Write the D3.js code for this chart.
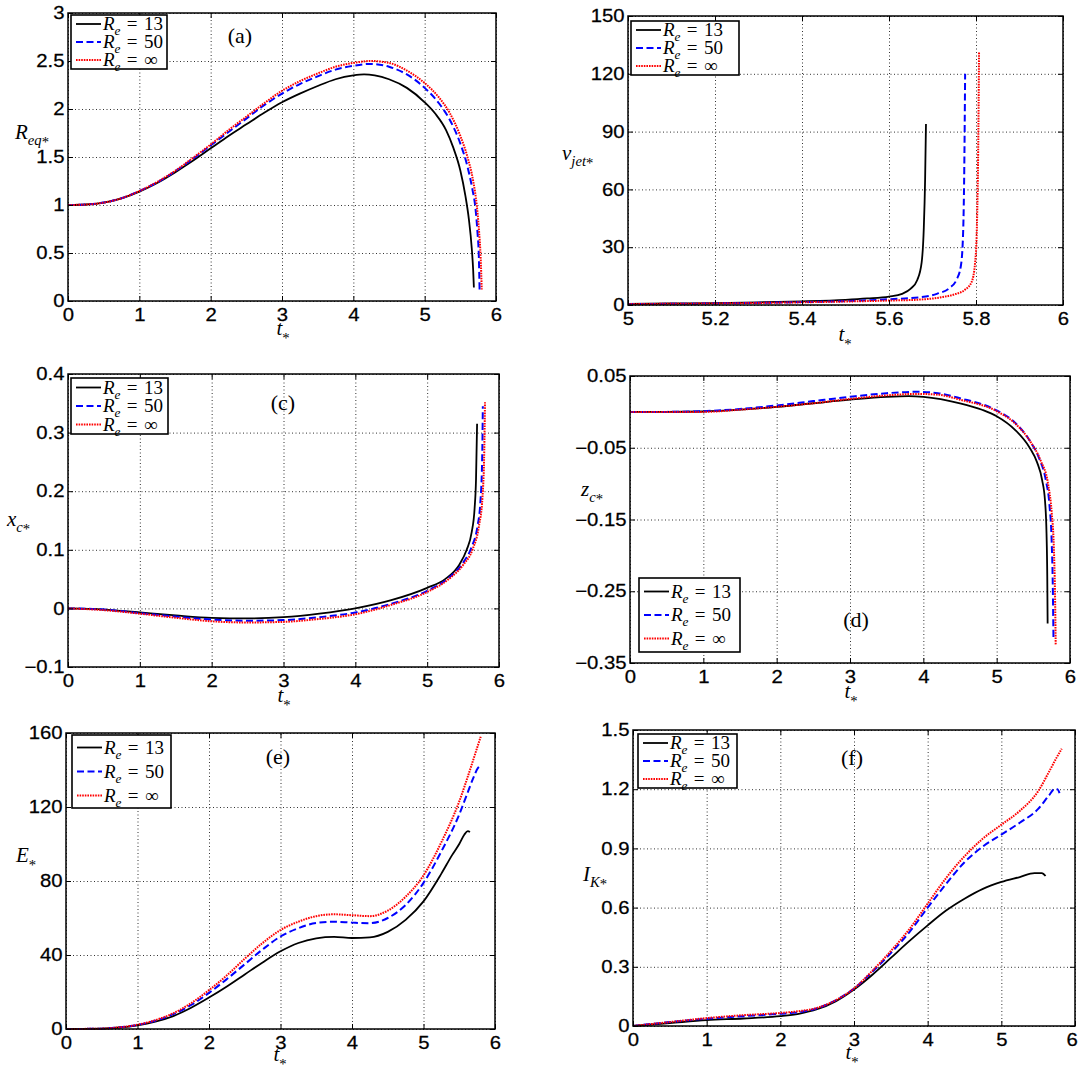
<!DOCTYPE html>
<html>
<head>
<meta charset="utf-8">
<script src="https://cdn.jsdelivr.net/npm/d3@7/dist/d3.min.js"></script>
<style>
  body { margin: 0; background: #fff; }
  svg { display: block; }
  .tick text { font-family: "Liberation Sans", Arial, sans-serif; font-size: 17.5px; fill: #000; stroke: #000; stroke-width: 0.25px; }
  .serif { font-family: "Liberation Serif", "Times New Roman", serif; fill: #000; }
</style>
</head>
<body>
<svg id="fig" width="1079" height="1072"></svg>
<script>
// ---- data: [t*, value] pairs per Re ----
const reLabels = ["13", "50", "\u221E"];

// (a) R_eq*
const reqRe13 = [[0,1],[0.25,1.005],[0.5,1.025],[0.75,1.07],[1,1.14],[1.25,1.23],[1.5,1.34],[1.75,1.46],[2,1.59],[2.25,1.72],[2.5,1.84],[2.75,1.96],[3,2.07],[3.25,2.16],[3.5,2.24],[3.75,2.31],[4,2.35],[4.15,2.36],[4.3,2.35],[4.5,2.31],[4.75,2.22],[5,2.07],[5.15,1.95],[5.3,1.78],[5.4,1.6],[5.5,1.36],[5.57,1.1],[5.62,0.85],[5.66,0.55],[5.68,0.32],[5.69,0.14]];
const reqRe50 = [[0,1],[0.25,1.005],[0.5,1.025],[0.75,1.07],[1,1.145],[1.25,1.235],[1.5,1.35],[1.75,1.48],[2,1.62],[2.25,1.76],[2.5,1.9],[2.75,2.04],[3,2.16],[3.25,2.26],[3.5,2.34],[3.75,2.41],[4,2.45],[4.25,2.47],[4.5,2.44],[4.75,2.36],[5,2.22],[5.2,2.06],[5.35,1.89],[5.5,1.64],[5.6,1.4],[5.67,1.16],[5.71,0.98],[5.74,0.72],[5.76,0.45],[5.77,0.12]];
const reqReInf = [[0,1],[0.25,1.005],[0.5,1.025],[0.75,1.07],[1,1.145],[1.25,1.24],[1.5,1.355],[1.75,1.49],[2,1.63],[2.25,1.78],[2.5,1.92],[2.75,2.06],[3,2.19],[3.25,2.29],[3.5,2.37],[3.75,2.44],[4,2.48],[4.25,2.5],[4.5,2.48],[4.75,2.4],[5,2.27],[5.2,2.12],[5.35,1.96],[5.5,1.72],[5.6,1.5],[5.68,1.25],[5.73,1.0],[5.76,0.75],[5.785,0.45],[5.8,0.12]];

// (b) v_jet*
const vjetRe13 = [[5,0.6],[5.1,0.8],[5.2,1.0],[5.3,1.4],[5.4,1.9],[5.5,2.7],[5.55,3.4],[5.6,4.4],[5.63,5.8],[5.65,8.5],[5.665,13],[5.675,22],[5.68,40],[5.683,65],[5.685,94]];
const vjetRe50 = [[5,0.5],[5.2,0.8],[5.4,1.5],[5.5,2],[5.6,3],[5.67,4],[5.71,5.8],[5.74,9],[5.755,13],[5.765,20],[5.77,35],[5.773,70],[5.775,120]];
const vjetReInf = [[5,0.5],[5.2,0.8],[5.4,1.4],[5.5,1.8],[5.6,2.3],[5.67,2.8],[5.72,4],[5.75,5.5],[5.775,8],[5.79,12],[5.798,22],[5.802,40],[5.805,80],[5.807,131]];

// (c) x_c*
const xcRe13 = [[0,0],[0.5,-0.002],[1,-0.007],[1.5,-0.012],[2,-0.016],[2.5,-0.017],[3,-0.015],[3.5,-0.009],[4,0.0],[4.5,0.014],[5,0.035],[5.25,0.05],[5.45,0.075],[5.55,0.1],[5.62,0.13],[5.66,0.17],[5.68,0.22],[5.695,0.315]];
const xcRe50 = [[0,0],[0.5,-0.002],[1,-0.008],[1.5,-0.014],[2,-0.019],[2.5,-0.021],[3,-0.02],[3.5,-0.015],[4,-0.007],[4.5,0.008],[5,0.03],[5.3,0.052],[5.5,0.078],[5.62,0.105],[5.7,0.14],[5.74,0.18],[5.765,0.25],[5.775,0.345]];
const xcReInf = [[0,0],[0.5,-0.003],[1,-0.009],[1.5,-0.016],[2,-0.022],[2.5,-0.024],[3,-0.023],[3.5,-0.018],[4,-0.01],[4.5,0.006],[5,0.028],[5.3,0.05],[5.5,0.074],[5.63,0.1],[5.72,0.14],[5.77,0.19],[5.795,0.27],[5.805,0.352]];

// (d) z_c*
const zcRe13 = [[0,0],[0.5,0],[1,0.0005],[1.5,0.003],[2,0.007],[2.5,0.012],[3,0.017],[3.5,0.021],[3.8,0.022],[4,0.021],[4.5,0.012],[4.8,0.003],[5,-0.006],[5.25,-0.025],[5.45,-0.05],[5.55,-0.07],[5.62,-0.095],[5.66,-0.125],[5.68,-0.17],[5.69,-0.23],[5.695,-0.295]];
const zcRe50 = [[0,0],[0.5,0],[1,0.001],[1.5,0.004],[2,0.009],[2.5,0.015],[3,0.021],[3.5,0.026],[3.9,0.028],[4.2,0.026],[4.5,0.019],[5,0.002],[5.25,-0.015],[5.45,-0.04],[5.58,-0.065],[5.67,-0.095],[5.72,-0.13],[5.75,-0.18],[5.765,-0.24],[5.775,-0.318]];
const zcReInf = [[0,0],[0.5,0],[1,0],[1.5,0.003],[2,0.007],[2.5,0.012],[3,0.018],[3.5,0.023],[3.9,0.025],[4.2,0.024],[4.5,0.017],[5,0.001],[5.25,-0.016],[5.45,-0.04],[5.6,-0.068],[5.7,-0.1],[5.75,-0.14],[5.78,-0.19],[5.795,-0.25],[5.805,-0.325]];

// (e) E*
const eRe13 = [[0,0],[0.5,0.2],[0.75,0.8],[1,2],[1.25,4],[1.5,7],[1.75,11.5],[2,17],[2.25,23],[2.5,29.5],[2.75,36],[3,42],[3.25,46.5],[3.5,49],[3.75,49.8],[4,49.2],[4.25,49.5],[4.5,52.5],[4.75,59],[5,69],[5.25,84],[5.4,94],[5.5,100],[5.57,105],[5.62,107],[5.65,106.5]];
const eRe50 = [[0,0],[0.5,0.2],[0.75,0.9],[1,2.2],[1.25,4.5],[1.5,8],[1.75,13],[2,19.5],[2.25,27],[2.5,35],[2.75,43],[3,50],[3.25,54.5],[3.5,57.3],[3.75,58],[4,57.5],[4.25,57.2],[4.5,60],[4.75,67],[5,79],[5.25,96],[5.5,116],[5.6,126],[5.7,136],[5.76,141],[5.79,142]];
const eReInf = [[0,0],[0.5,0.2],[0.75,0.9],[1,2.3],[1.25,4.8],[1.5,8.5],[1.75,14],[2,21],[2.25,29],[2.5,38],[2.75,46.5],[3,53.5],[3.25,58],[3.5,61],[3.75,62],[4,61.5],[4.25,61],[4.5,64],[4.75,71.5],[5,83],[5.25,101],[5.5,123],[5.65,140],[5.75,152],[5.8,158]];

// (f) I_K*
const ikRe13 = [[0,0],[0.5,0.015],[1,0.03],[1.5,0.038],[2,0.05],[2.25,0.062],[2.5,0.085],[2.75,0.125],[3,0.185],[3.25,0.26],[3.5,0.345],[3.75,0.43],[4,0.51],[4.25,0.585],[4.5,0.645],[4.75,0.695],[5,0.73],[5.25,0.755],[5.45,0.775],[5.55,0.775],[5.6,0.76]];
const ikRe50 = [[0,0],[0.5,0.02],[1,0.037],[1.5,0.05],[2,0.062],[2.25,0.07],[2.5,0.09],[2.75,0.13],[3,0.19],[3.25,0.275],[3.5,0.37],[3.75,0.475],[4,0.6],[4.25,0.72],[4.5,0.83],[4.75,0.91],[5,0.97],[5.25,1.03],[5.5,1.1],[5.65,1.17],[5.72,1.2],[5.76,1.2],[5.79,1.18]];
const ikReInf = [[0,0],[0.5,0.02],[1,0.04],[1.5,0.055],[2,0.066],[2.25,0.075],[2.5,0.092],[2.75,0.13],[3,0.19],[3.25,0.28],[3.5,0.38],[3.75,0.49],[4,0.62],[4.25,0.75],[4.5,0.86],[4.75,0.95],[5,1.02],[5.25,1.09],[5.5,1.19],[5.65,1.29],[5.75,1.36],[5.82,1.405]];

// ---- ticks ----
const tTicks = [0,1,2,3,4,5,6];
const tTickLabels = ["0","1","2","3","4","5","6"];
const tZoomTicks = [5,5.2,5.4,5.6,5.8,6];
const tZoomTickLabels = ["5","5.2","5.4","5.6","5.8","6"];
const reqTicks = [0,0.5,1,1.5,2,2.5,3];
const reqTickLabels = ["0","0.5","1","1.5","2","2.5","3"];
const vjetTicks = [0,30,60,90,120,150];
const vjetTickLabels = ["0","30","60","90","120","150"];
const xcTicks = [-0.1,0,0.1,0.2,0.3,0.4];
const xcTickLabels = ["\u22120.1","0","0.1","0.2","0.3","0.4"];
const zcTicks = [-0.35,-0.25,-0.15,-0.05,0.05];
const zcTickLabels = ["\u22120.35","\u22120.25","\u22120.15","\u22120.05","0.05"];
const eTicks = [0,40,80,120,160];
const eTickLabels = ["0","40","80","120","160"];
const ikTicks = [0,0.3,0.6,0.9,1.2,1.5];
const ikTickLabels = ["0","0.3","0.6","0.9","1.2","1.5"];

// ---- styles ----
const lineStyles = [
  { color: "#000000", dash: null, width: 1.8 },
  { color: "#0000ff", dash: "7,3.5", width: 2 },
  { color: "#ff0000", dash: "1.6,1", width: 2 }
];

const svg = d3.select("#fig");
const pageW = 1079;

// serif math-ish text: parts = [{t, it, sub, star}]
function richText(parent, x, y, parts, size, anchor) {
  const t = parent.append("text")
    .attr("class", "serif")
    .attr("x", x).attr("y", y)
    .attr("font-size", size)
    .attr("text-anchor", anchor || "start");
  let shift = 0;
  parts.forEach(pt => {
    let target = pt.sub ? size * 0.28 : 0;
    if (pt.star) target += size * 0.1;
    const s = t.append("tspan").text(pt.t).attr("dy", target - shift);
    shift = target;
    if (pt.sub) s.attr("font-size", size * 0.7);
    if (pt.it) s.attr("font-style", "italic");
  });
  return t;
}

function drawPanel(p) {
  const g = svg.append("g");
  const x = d3.scaleLinear().domain(p.xDomain).range([p.left, p.right]);
  const y = d3.scaleLinear().domain(p.yDomain).range([p.bottom, p.top]);
  const w = p.right - p.left, h = p.bottom - p.top;

  // dotted grid
  const gx = g.append("g").attr("transform", `translate(0,${p.bottom})`)
    .call(d3.axisBottom(x).tickValues(p.xTicks).tickSize(-h).tickFormat(""));
  const gy = g.append("g").attr("transform", `translate(${p.left},0)`)
    .call(d3.axisLeft(y).tickValues(p.yTicks).tickSize(-w).tickFormat(""));
  [gx, gy].forEach(a => {
    a.select(".domain").remove();
    a.selectAll("line").attr("stroke", "#333").attr("stroke-width", 1).attr("stroke-dasharray", "1,2.5");
  });

  // curves
  const line = d3.line().x(d => x(d[0])).y(d => y(d[1])).curve(d3.curveMonotoneX);
  p.series.forEach((s, i) => {
    const st = lineStyles[i];
    g.append("path").datum(s)
      .attr("fill", "none")
      .attr("stroke", st.color)
      .attr("stroke-width", st.width)
      .attr("stroke-dasharray", st.dash)
      .attr("d", line);
  });

  // axes with inward ticks on all four sides
  const xi = d3.scaleOrdinal().domain(p.xTicks).range(p.xLabels);
  const yi = d3.scaleOrdinal().domain(p.yTicks).range(p.yLabels);
  const ab = g.append("g").attr("transform", `translate(0,${p.bottom})`)
    .call(d3.axisBottom(x).tickValues(p.xTicks).tickSize(-5).tickPadding(7.5).tickFormat(d => xi(d)));
  const al = g.append("g").attr("transform", `translate(${p.left},0)`)
    .call(d3.axisLeft(y).tickValues(p.yTicks).tickSize(-5).tickPadding(3).tickFormat(d => yi(d)));
  const at = g.append("g").attr("transform", `translate(0,${p.top})`)
    .call(d3.axisTop(x).tickValues(p.xTicks).tickSize(-5).tickFormat(""));
  const ar = g.append("g").attr("transform", `translate(${p.right},0)`)
    .call(d3.axisRight(y).tickValues(p.yTicks).tickSize(-5).tickFormat(""));
  [ab, al, at, ar].forEach(a => {
    a.select(".domain").remove();
    a.selectAll("line").attr("stroke", "#000").attr("stroke-width", 1);
    a.selectAll("text").attr("transform", "scale(1.16,1)");
  });
  // keep the last x label inside the page
  if (p.right > pageW - 8) {
    ab.selectAll(".tick text").filter(d => d === p.xTicks[p.xTicks.length - 1]).attr("dx", -3);
  }

  // frame
  g.append("rect").attr("x", p.left).attr("y", p.top).attr("width", w).attr("height", h)
    .attr("fill", "none").attr("stroke", "#000").attr("stroke-width", 1.5);

  // legend
  const L = p.legend;
  const lg = g.append("g");
  lg.append("rect").attr("x", L.x).attr("y", L.y).attr("width", L.w).attr("height", L.h)
    .attr("fill", "#fff").attr("stroke", "#000").attr("stroke-width", 1.6);
  reLabels.forEach((lab, i) => {
    const cy = L.y + L.h / 2 + (i - 1) * L.row;
    const st = lineStyles[i];
    lg.append("line").attr("x1", L.x + 5).attr("x2", L.x + 30).attr("y1", cy).attr("y2", cy)
      .attr("stroke", st.color).attr("stroke-width", st.width).attr("stroke-dasharray", st.dash);
    richText(lg, L.x + 32, cy + 6,
      [{ t: "R", it: true }, { t: "e", it: true, sub: true }, { t: "\u2004=\u2004" + lab }], 19);
  });

  // labels
  richText(g, p.ylab.x, p.ylab.y, p.ylab.parts, 21);
  richText(g, p.xlab.x, p.xlab.y, [{ t: "t", it: true }, { t: "*", sub: true, star: true }], 21, "middle");
  if (p.tag) g.append("text").attr("class", "serif").attr("x", p.tag.x).attr("y", p.tag.y)
    .attr("font-size", 22).attr("text-anchor", "middle").text(p.tag.t);
}

drawPanel({
  left: 68, right: 496, top: 13, bottom: 301,
  xDomain: [0, 6], yDomain: [0, 3],
  xTicks: tTicks, xLabels: tTickLabels, yTicks: reqTicks, yLabels: reqTickLabels,
  series: [reqRe13, reqRe50, reqReInf],
  legend: { x: 71, y: 15, w: 96, h: 54, row: 18 },
  ylab: { x: 15, y: 139, parts: [{ t: "R", it: true }, { t: "eq", it: true, sub: true }, { t: "*", sub: true, star: true }] },
  xlab: { x: 283, y: 335 },
  tag: { x: 240, y: 43, t: "(a)" }
});

drawPanel({
  left: 628, right: 1063, top: 16, bottom: 305,
  xDomain: [5, 6], yDomain: [0, 150],
  xTicks: tZoomTicks, xLabels: tZoomTickLabels, yTicks: vjetTicks, yLabels: vjetTickLabels,
  series: [vjetRe13, vjetRe50, vjetReInf],
  legend: { x: 631, y: 21, w: 108, h: 54, row: 18 },
  ylab: { x: 562, y: 160, parts: [{ t: "v", it: true }, { t: "jet", it: true, sub: true }, { t: "*", sub: true, star: true }] },
  xlab: { x: 845, y: 341 },
  tag: null
});

drawPanel({
  left: 68, right: 499, top: 374, bottom: 667,
  xDomain: [0, 6], yDomain: [-0.1, 0.4],
  xTicks: tTicks, xLabels: tTickLabels, yTicks: xcTicks, yLabels: xcTickLabels,
  series: [xcRe13, xcRe50, xcReInf],
  legend: { x: 71, y: 378, w: 97, h: 56, row: 18.5 },
  ylab: { x: 7, y: 526, parts: [{ t: "x", it: true }, { t: "c", it: true, sub: true }, { t: "*", sub: true, star: true }] },
  xlab: { x: 284, y: 702 },
  tag: { x: 283, y: 410, t: "(c)" }
});

drawPanel({
  left: 630, right: 1070, top: 376, bottom: 663,
  xDomain: [0, 6], yDomain: [-0.35, 0.05],
  xTicks: tTicks, xLabels: tTickLabels, yTicks: zcTicks, yLabels: zcTickLabels,
  series: [zcRe13, zcRe50, zcReInf],
  legend: { x: 639, y: 578, w: 101, h: 74, row: 23.5 },
  ylab: { x: 581, y: 496, parts: [{ t: "z", it: true }, { t: "c", it: true, sub: true }, { t: "*", sub: true, star: true }] },
  xlab: { x: 851, y: 698 },
  tag: { x: 856, y: 627, t: "(d)" }
});

drawPanel({
  left: 66, right: 495, top: 733, bottom: 1029,
  xDomain: [0, 6], yDomain: [0, 160],
  xTicks: tTicks, xLabels: tTickLabels, yTicks: eTicks, yLabels: eTickLabels,
  series: [eRe13, eRe50, eReInf],
  legend: { x: 72, y: 735, w: 99, h: 73, row: 24 },
  ylab: { x: 16, y: 862, parts: [{ t: "E", it: true }, { t: "*", sub: true, star: true }] },
  xlab: { x: 280, y: 1061 },
  tag: { x: 278, y: 764, t: "(e)" }
});

drawPanel({
  left: 633, right: 1075, top: 730, bottom: 1026,
  xDomain: [0, 6], yDomain: [0, 1.5],
  xTicks: tTicks, xLabels: tTickLabels, yTicks: ikTicks, yLabels: ikTickLabels,
  series: [ikRe13, ikRe50, ikReInf],
  legend: { x: 638, y: 734, w: 99, h: 54, row: 18 },
  ylab: { x: 583, y: 881, parts: [{ t: "I", it: true }, { t: "K", it: true, sub: true }, { t: "*", sub: true, star: true }] },
  xlab: { x: 852, y: 1059 },
  tag: { x: 852, y: 765, t: "(f)" }
});
</script>
</body>
</html>
